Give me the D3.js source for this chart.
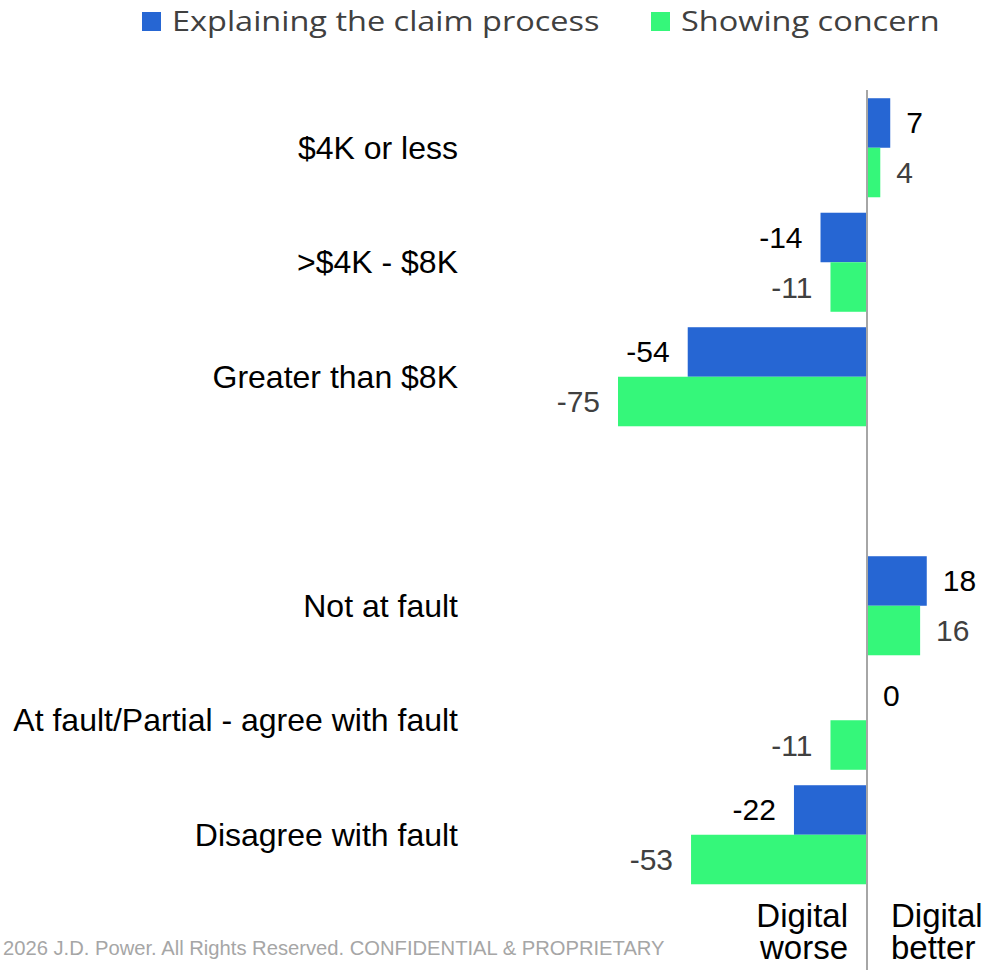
<!DOCTYPE html>
<html>
<head>
<meta charset="utf-8">
<script src="https://cdn.jsdelivr.net/npm/d3@7"></script>
<style>
  html, body { margin: 0; padding: 0; background: #fff; }
  svg { display: block; }
</style>
</head>
<body>
<svg id="chart" width="992" height="970"></svg>
<script>
// Claim-size and fault groups, with an empty slot separating the two groups
const categories = ["$4K or less", ">$4K - $8K", "Greater than $8K", "", "Not at fault", "At fault/Partial - agree with fault", "Disagree with fault"];
const seriesNames = ["Explaining the claim process", "Showing concern"];
const explainingValues = [7, -14, -54, null, 18, 0, -22];
const concernValues = [4, -11, -75, null, 16, -11, -53];
const sideLabels = [["Digital", "worse"], ["Digital", "better"]];
const footnote = "2026 J.D. Power. All Rights Reserved. CONFIDENTIAL & PROPRIETARY";

const colors = ["#2666d3", "#35f77a"];
const valueColors = ["#000000", "#404040"];

const svg = d3.select("#chart");

const x = d3.scaleLinear().domain([-80, 20]).range([867 - 80 * 3.32, 867 + 20 * 3.32]);
const y = d3.scaleBand().domain(categories.map((c, i) => i)).range([90.5, 892]).paddingInner(0.135).paddingOuter(0.0675);
const ySeries = d3.scaleBand().domain([0, 1]).range([0, y.bandwidth()]);

const rows = categories.map((c, i) => ({
  i, label: c,
  values: [explainingValues[i], concernValues[i]]
}));

// Category labels
svg.append("g")
  .selectAll("text")
  .data(rows.filter(r => r.label))
  .join("text")
  .attr("x", 458)
  .attr("y", r => y(r.i) + y.bandwidth() / 2)
  .attr("dy", "0.35em")
  .attr("text-anchor", "end")
  .style("font-family", "Arial, 'Liberation Sans', sans-serif")
  .style("font-size", "32px")
  .attr("fill", "#000")
  .text(r => r.label);

// Bars and value labels
const groups = svg.append("g")
  .selectAll("g")
  .data(rows.filter(r => r.values[0] !== null))
  .join("g")
  .attr("transform", r => `translate(0,${y(r.i)})`);

groups.selectAll("rect")
  .data(r => r.values.map((v, s) => ({ v, s })))
  .join("rect")
  .attr("x", d => x(Math.min(0, d.v)))
  .attr("y", d => ySeries(d.s))
  .attr("width", d => Math.abs(x(d.v) - x(0)))
  .attr("height", ySeries.bandwidth())
  .attr("fill", d => colors[d.s]);

groups.selectAll("text")
  .data(r => r.values.map((v, s) => ({ v, s })))
  .join("text")
  .attr("x", d => d.v < 0 ? x(d.v) - 18 : x(d.v) + 16)
  .attr("y", d => ySeries(d.s) + ySeries.bandwidth() / 2)
  .attr("dy", "0.35em")
  .attr("text-anchor", d => d.v < 0 ? "end" : "start")
  .style("font-family", "Arial, 'Liberation Sans', sans-serif")
  .style("font-size", "30px")
  .attr("fill", d => valueColors[d.s])
  .text(d => d.v);

// Zero line
svg.append("line")
  .attr("x1", x(0)).attr("x2", x(0))
  .attr("y1", 90).attr("y2", 970)
  .attr("stroke", "#a6a6a6")
  .attr("stroke-width", 2);

// Side captions under the zero line
sideLabels.forEach((lines, k) => {
  lines.forEach((ln, j) => {
    svg.append("text")
      .attr("x", k === 0 ? x(0) - 19 : x(0) + 24)
      .attr("y", 927 + j * 32)
      .attr("text-anchor", k === 0 ? "end" : "start")
      .style("font-family", "Arial, 'Liberation Sans', sans-serif")
      .style("font-size", "33px")
      .attr("fill", "#000")
      .text(ln);
  });
});

// Footnote
svg.append("text")
  .attr("x", 3)
  .attr("y", 955)
  .style("font-family", "Arial, 'Liberation Sans', sans-serif")
  .style("font-size", "20.2px")
  .attr("fill", "#a6a6a6")
  .text(footnote);

// Legend
const legendX = [142, 651];
const legend = svg.append("g")
  .selectAll("g")
  .data(seriesNames)
  .join("g")
  .attr("transform", (d, i) => `translate(${legendX[i]},0)`);

legend.append("rect")
  .attr("x", 0).attr("y", 12)
  .attr("width", 19).attr("height", 19)
  .attr("fill", (d, i) => colors[i]);

legend.append("text")
  .attr("transform", "translate(30,31) scale(1.16,1)")
  .style("font-family", "'Open Sans', sans-serif")
  .style("font-size", "28px")
  .attr("fill", "#404040")
  .text(d => d);
</script>
</body>
</html>
